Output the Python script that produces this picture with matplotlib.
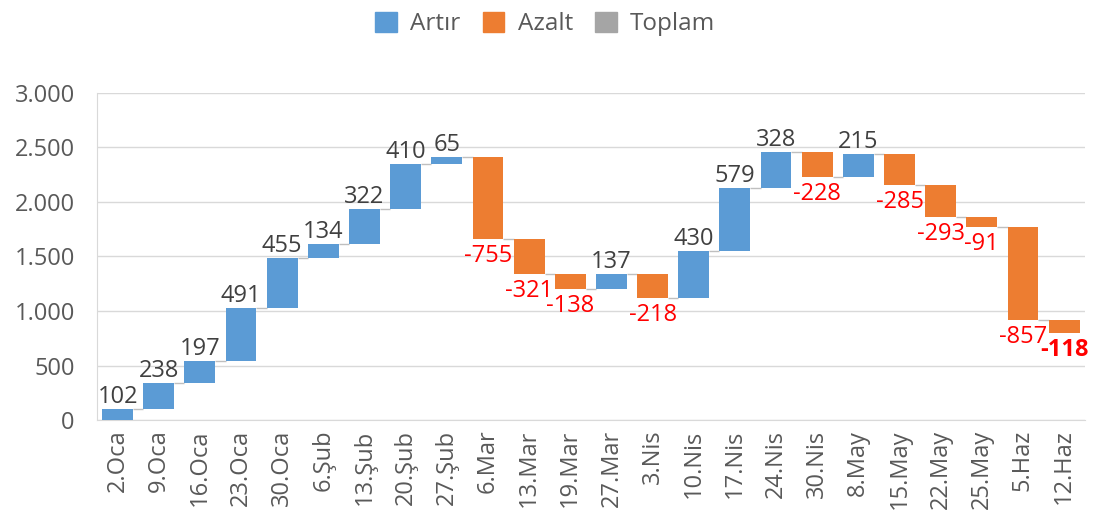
import matplotlib.pyplot as plt
import numpy as np

plt.rcParams['font.family'] = ['Open Sans', 'DejaVu Sans']

dates = ["2.Oca", "9.Oca", "16.Oca", "23.Oca", "30.Oca", "6.Şub", "13.Şub", "20.Şub",
         "27.Şub", "6.Mar", "13.Mar", "19.Mar", "27.Mar", "3.Nis", "10.Nis", "17.Nis",
         "24.Nis", "30.Nis", "8.May", "15.May", "22.May", "25.May", "5.Haz", "12.Haz"]
changes = [102, 238, 197, 491, 455, 134, 322, 410, 65, -755, -321, -138, 137, -218,
           430, 579, 328, -228, 215, -285, -293, -91, -857, -118]
legend_labels = ["Artır", "Azalt", "Toplam"]

blue = "#5B9BD5"
orange = "#ED7D31"
gray = "#A5A5A5"

changes = np.array(changes)
ends = np.cumsum(changes)
starts = ends - changes
x = np.arange(len(dates))
w = 0.75

fig = plt.figure(figsize=(10.95, 5.31), dpi=100)
ax = fig.add_axes([0.0886, 0.209, 0.902, 0.616])

colors = [blue if c > 0 else orange for c in changes]
ax.bar(x, changes, bottom=starts, width=w, color=colors, zorder=3)

# connector lines
ax.hlines(ends[:-1], x[:-1] + w / 2, x[1:] - w / 2, color="#BFBFBF", lw=1, zorder=2)

for i, c in enumerate(changes):
    if c > 0:
        ax.text(x[i], ends[i], f"{c}", ha="center", va="bottom",
                fontsize=17, color="#404040", zorder=4)
    else:
        bold = i == len(changes) - 1
        ax.text(x[i], ends[i] - 45, f"{c}", ha="center", va="top",
                fontsize=17, color="#FF0000", zorder=4,
                fontweight="bold" if bold else "normal")

ax.set_xlim(-0.5, len(dates) - 0.5)
ax.set_ylim(0, 3000)
ax.set_yticks(np.arange(0, 3001, 500))
ax.set_yticklabels([f"{v:,}".replace(",", ".") for v in range(0, 3001, 500)])
ax.set_xticks(x)
ax.set_xticklabels(dates, rotation=90)
ax.tick_params(axis="both", length=0, labelsize=17, colors="#595959")
ax.tick_params(axis="y", pad=16)
ax.tick_params(axis="x", pad=7)

ax.grid(axis="y", color="#D9D9D9", lw=1, zorder=0)
for s in ["top", "right"]:
    ax.spines[s].set_visible(False)
ax.spines["left"].set_color("#D9D9D9")
ax.spines["bottom"].set_color("#D9D9D9")

handles = [plt.Rectangle((0, 0), 1, 1, color=c) for c in [blue, orange, gray]]
fig.legend(handles, legend_labels, loc="center", bbox_to_anchor=(0.498, 0.955), ncol=3,
           frameon=False, fontsize=17.5, labelcolor="#595959", handlelength=0.9,
           handleheight=0.9, handletextpad=0.55, columnspacing=0.9)

fig.savefig("out.png", dpi=100)
